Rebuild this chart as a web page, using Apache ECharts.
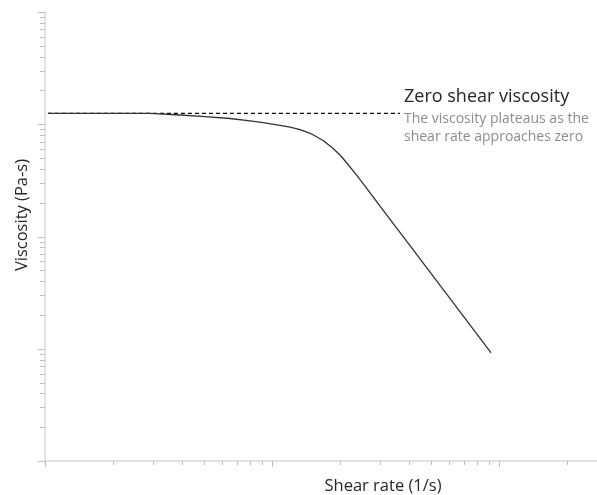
<!DOCTYPE html>
<html><head><meta charset="utf-8">
<script src="https://cdn.jsdelivr.net/npm/echarts@6/dist/echarts.min.js"></script>
<style>html,body{margin:0;padding:0;background:#fff}#c{width:597px;height:495px}</style>
</head><body><div id="c"></div>
<script>
// Flow curve (log-log)
const shearRate = [1.03, 2.90, 3.93, 5.07, 6.53, 8.00, 9.13, 10.84, 12.01, 13.29, 15.01, 16.78, 18.38, 19.94, 21.62, 23.44, 25.69, 30.83, 41.80, 59.01, 92.22];
const viscosity = [1252, 1252, 1209, 1168, 1125, 1073, 1032, 979, 941, 894, 815, 716, 621, 532, 438, 357, 281, 172, 76.3, 30.3, 9.17];
// Zero-shear plateau guide line
const plateauRate = [1.03, 36.6];
const plateauViscosity = [1252, 1252];
// Axis extents and tick values
const xRange = [1, 270];
const yRange = [1, 10000];
const xTickValues = [1,2,3,4,5,6,7,8,9,10,20,30,40,50,60,70,80,90,100,200];
const yTickValues = [1,2,3,4,5,6,7,8,9,10,20,30,40,50,60,70,80,90,100,200,300,400,500,600,700,800,900,1000,2000,3000,4000,5000,6000,7000,8000,9000,10000];
const texts = {
  xTitle: 'Shear rate (1/s)',
  yTitle: 'Viscosity (Pa-s)',
  note: 'Zero shear viscosity',
  noteSub: 'The viscosity plateaus as the\nshear rate approaches zero'
};

const isMajor = v => Math.abs(Math.log10(v) - Math.round(Math.log10(v))) < 1e-9;
const TICK = '#bfbfbf';
const FONT = '"Open Sans", "Noto Sans", sans-serif';

const chart = echarts.init(document.getElementById('c'), null, {renderer: 'canvas'});
chart.setOption({
  animation: false,
  backgroundColor: '#fff',
  grid: {left: 45, right: 0, top: 12, bottom: 34, containLabel: false},
  xAxis: {
    type: 'log', logBase: 10, min: xRange[0], max: xRange[1],
    axisLine: {show: true, lineStyle: {color: '#d9d9d9', width: 1.5}},
    axisTick: {show: false}, axisLabel: {show: false}, splitLine: {show: false}
  },
  yAxis: {
    type: 'log', logBase: 10, min: yRange[0], max: yRange[1],
    axisLine: {show: true, lineStyle: {color: '#d9d9d9', width: 1.5}},
    axisTick: {show: false}, axisLabel: {show: false}, splitLine: {show: false}
  },
  series: [
    {
      type: 'custom', silent: true, clip: false, z: 1,
      data: xTickValues.map(v => [v, yRange[0]]),
      renderItem: (params, api) => {
        const v = api.value(0);
        const p = api.coord([v, api.value(1)]);
        const x = Math.round(p[0]) + 0.5;
        return {type: 'line', shape: {x1: x, y1: p[1], x2: x, y2: p[1] + (isMajor(v) ? 6 : 4)},
          style: {stroke: TICK, lineWidth: 1}};
      }
    },
    {
      type: 'custom', silent: true, clip: false, z: 1,
      data: yTickValues.map(v => [xRange[0], v]),
      renderItem: (params, api) => {
        const v = api.value(1);
        const p = api.coord([api.value(0), v]);
        const y = Math.round(p[1]) + 0.5;
        return {type: 'line', shape: {x1: p[0] - (isMajor(v) ? 7 : 5), y1: y, x2: p[0], y2: y},
          style: {stroke: TICK, lineWidth: 1}};
      }
    },
    {
      type: 'line', showSymbol: false, silent: true, z: 3,
      data: plateauRate.map((x, i) => [x, plateauViscosity[i]]),
      lineStyle: {color: '#000', width: 1.2, type: [4, 3]}
    },
    {
      type: 'line', showSymbol: false, silent: true, z: 4,
      smooth: false,
      data: shearRate.map((x, i) => [x, viscosity[i]]),
      lineStyle: {color: '#333', width: 1.3, join: 'round'}
    }
  ],
  graphic: [
    {type: 'text', left: 404, top: 88, style: {text: texts.note, font: '18px ' + FONT, fill: '#262626'}},
    {type: 'text', left: 404, top: 110, style: {text: texts.noteSub, font: '14px ' + FONT, fill: '#8c8c8c', lineHeight: 18}},
    {type: 'text', x: 22, y: 215, rotation: Math.PI / 2,
      style: {text: texts.yTitle, font: '16.5px ' + FONT, fill: '#262626', align: 'center', verticalAlign: 'middle'}},
    {type: 'text', x: 383, y: 486,
      style: {text: texts.xTitle, font: '16.5px ' + FONT, fill: '#262626', align: 'center', verticalAlign: 'middle'}}
  ]
});
</script></body></html>
